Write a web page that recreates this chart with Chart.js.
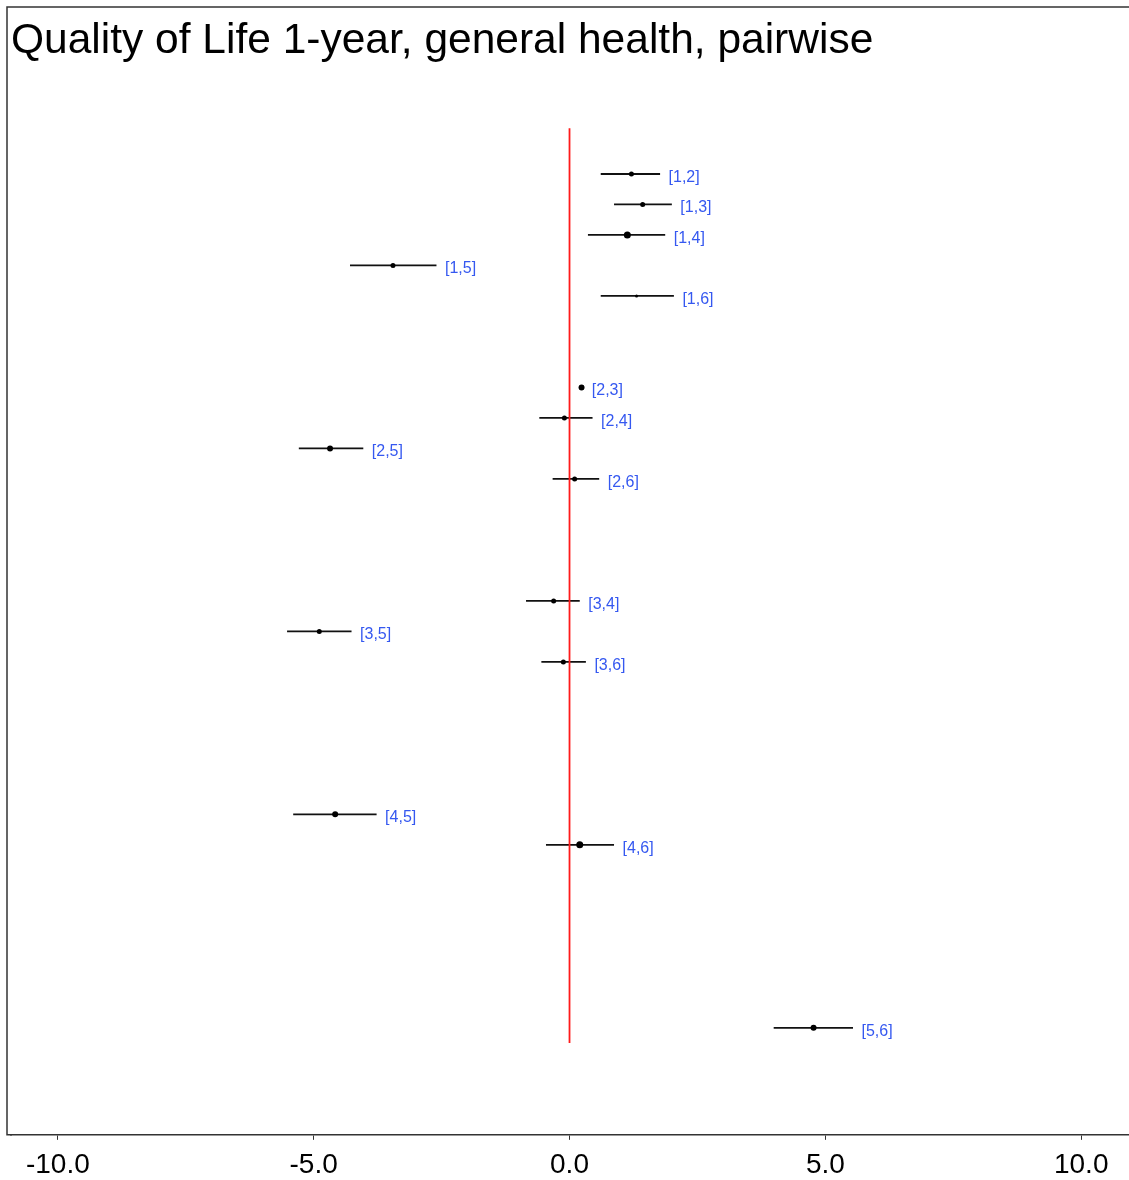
<!DOCTYPE html>
<html>
<head>
<meta charset="utf-8">
<script src="https://cdn.jsdelivr.net/npm/chart.js@4/dist/chart.umd.min.js"></script>
<style>
  body { margin: 0; background: #fff; }
  #forest { display: block; }
</style>
</head>
<body>
<canvas id="forest" width="1129" height="1180"></canvas>
<script>
'use strict'
//비교 쌍 라벨
const pairs = ['[1,2]', '[1,3]', '[1,4]', '[1,5]', '[1,6]',
               '[2,3]', '[2,4]', '[2,5]', '[2,6]',
               '[3,4]', '[3,5]', '[3,6]',
               '[4,5]', '[4,6]',
               '[5,6]'];
//세로 위치 (행 번호, 그룹 사이 빈칸 포함)
const rowPos = [1, 2, 3, 4, 5, 8, 9, 10, 11, 15, 16, 17, 22, 23, 29];
//추정치
const estimate = [1.21, 1.43, 1.13, -3.45, 1.31, 0.235, -0.10, -4.68, 0.10, -0.31, -4.89, -0.12, -4.58, 0.20, 4.77];
//신뢰구간 하한
const lower = [0.61, 0.87, 0.36, -4.29, 0.61, 0.20, -0.59, -5.29, -0.33, -0.85, -5.52, -0.55, -5.40, -0.46, 3.99];
//신뢰구간 상한
const upper = [1.77, 2.00, 1.87, -2.60, 2.04, 0.27, 0.45, -4.03, 0.58, 0.20, -4.26, 0.32, -3.77, 0.87, 5.54];
//점 크기
const markerSize = [2.5, 2.5, 3.5, 2.5, 1.5, 3, 2.5, 3, 2.5, 2.5, 2.5, 2.5, 3, 3.5, 3];
//x축 눈금
const xTicks = [-10, -5, 0, 5, 10];

//==================================================================================================

//신뢰구간 선 datasets
function ciDatasets(){
    let sets = [];
    for(let i = 0; i < pairs.length; i++){
        sets.push({
            type: 'line',
            data: [{x: lower[i], y: rowPos[i]}, {x: upper[i], y: rowPos[i]}],
            borderColor: '#111',
            borderWidth: 1.8,
            pointRadius: 0,
            order: 2
        });
    }
    return sets;
}

//점 추정치 dataset
function pointDataset(){
    return {
        type: 'scatter',
        data: estimate.map((v, i) => ({x: v, y: rowPos[i]})),
        backgroundColor: '#000',
        borderColor: '#000',
        borderWidth: 0,
        pointRadius: markerSize,
        order: 1
    };
}

//0 기준선
const zeroLine = {
    type: 'line',
    data: [{x: 0, y: -0.5}, {x: 0, y: 29.5}],
    borderColor: '#ff1a1a',
    borderWidth: 1.8,
    pointRadius: 0,
    order: 0
};

//테두리 (위, 왼쪽, 아래)
const framePlugin = {
    id: 'frame',
    afterDraw(chart){
        const ctx = chart.ctx;
        const area = chart.chartArea;
        ctx.save();
        ctx.strokeStyle = '#333';
        ctx.lineWidth = 1.5;
        ctx.beginPath();
        ctx.moveTo(chart.width, 7);
        ctx.lineTo(7, 7);
        ctx.lineTo(7, area.bottom);
        ctx.lineTo(area.left + 1, area.bottom);
        ctx.stroke();
        ctx.restore();
    }
};

//쌍 라벨 그리기
const labelPlugin = {
    id: 'pairLabels',
    afterDatasetsDraw(chart){
        const ctx = chart.ctx;
        const xs = chart.scales.x;
        const ys = chart.scales.y;
        ctx.save();
        ctx.font = '16px "Liberation Sans", Arial, sans-serif';
        ctx.fillStyle = '#3558f0';
        ctx.textAlign = 'left';
        ctx.textBaseline = 'middle';
        pairs.forEach((p, i) => {
            ctx.fillText(p, xs.getPixelForValue(upper[i]) + 8.5, ys.getPixelForValue(rowPos[i]) + 3.5);
        });
        ctx.restore();
    }
};

//==================================================================================================

new Chart(document.getElementById('forest'), {
    data: {
        datasets: ciDatasets().concat([pointDataset(), zeroLine])
    },
    options: {
        responsive: false,
        animation: false,
        layout: { autoPadding: false, padding: { left: 11, right: 0, top: 0, bottom: -10 } },
        plugins: {
            legend: { display: false },
            tooltip: { enabled: false },
            title: {
                display: true,
                text: 'Quality of Life 1-year, general health, pairwise',
                align: 'start',
                color: '#000',
                font: { family: '"Liberation Sans", Arial, sans-serif', size: 42.5, weight: 'normal', lineHeight: 1.2 },
                padding: { top: 16, bottom: 12.2 }
            }
        },
        scales: {
            x: {
                type: 'linear',
                min: -10.915,
                max: 10.934,
                afterBuildTicks: (axis) => { axis.ticks = xTicks.map(v => ({value: v})); },
                afterFit: (axis) => { axis.paddingLeft = 0; axis.paddingRight = 0; },
                ticks: {
                    color: '#000',
                    padding: 15,
                    font: { family: '"Liberation Sans", Arial, sans-serif', size: 28, lineHeight: 0.72 },
                    callback: (v) => Number(v).toFixed(1)
                },
                grid: { drawOnChartArea: false, drawTicks: true, tickLength: 5, color: '#333' },
                border: { display: true, color: '#333', width: 1.5 }
            },
            y: {
                type: 'linear',
                reverse: true,
                min: -2.108,
                max: 32.51,
                display: false
            }
        }
    },
    plugins: [framePlugin, labelPlugin]
});
</script>
</body>
</html>
